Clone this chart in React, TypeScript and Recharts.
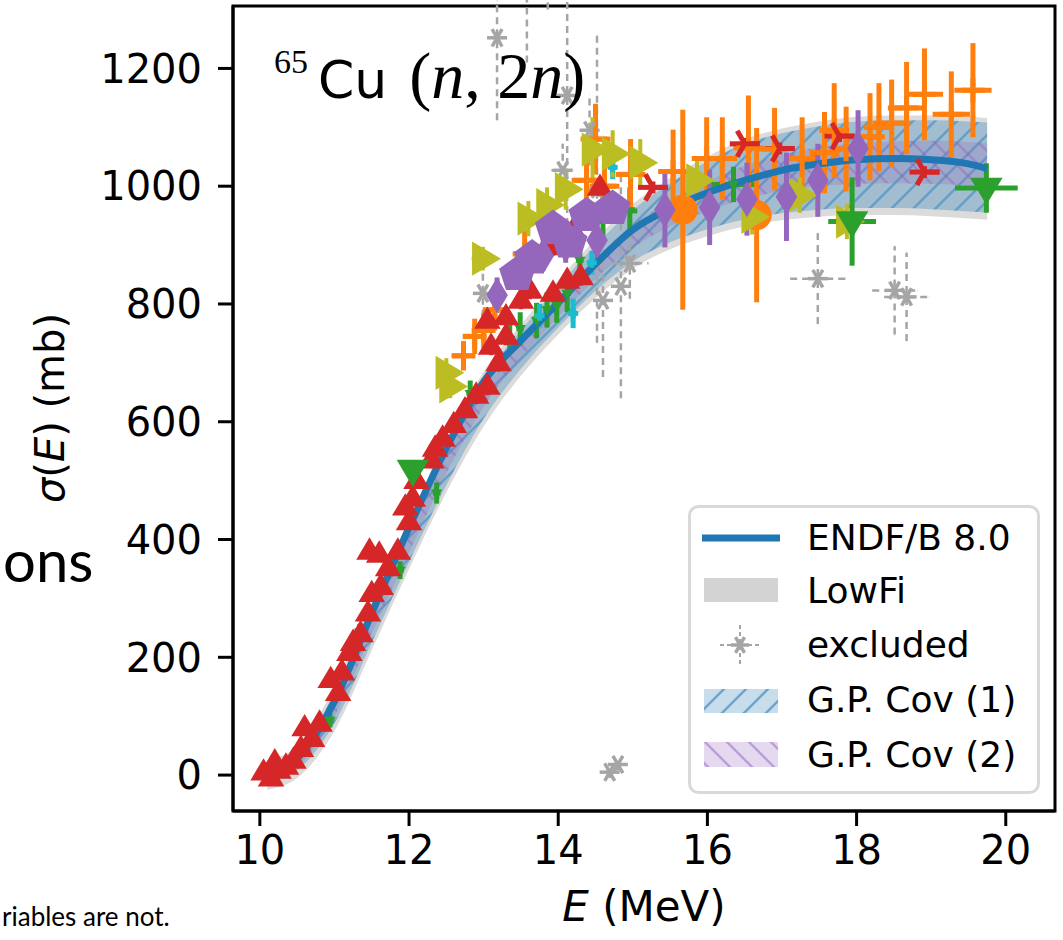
import React from 'react';
import { ComposedChart, Area, Line, Scatter, ErrorBar, XAxis, YAxis, ReferenceArea, Legend, Label } from 'recharts';

// model curve + bands, sampled on one energy grid (MeV / mb)
const bandE = [10.1, 10.5, 11.0, 11.5, 12.0, 12.5, 13.0, 13.5, 14.0, 14.5, 15.0, 15.5, 16.0, 16.5, 17.0, 17.5, 18.0, 18.5, 19.0, 19.5, 19.75];
const endf = [5, 28, 125, 275, 420, 555, 668, 738, 802, 868, 926, 962, 989, 1010, 1027, 1038, 1045, 1047, 1045, 1038, 1030];
const lowFiLo = [-25, -5, 75, 212, 350, 480, 592, 678, 748, 810, 860, 893, 915, 932, 942, 948, 951, 951, 949, 945, 943];
const lowFiHi = [25, 50, 150, 295, 435, 570, 685, 765, 840, 910, 970, 1014, 1050, 1080, 1098, 1110, 1118, 1120, 1120, 1118, 1116];
const cov1Lo = [-12, 8, 88, 225, 362, 492, 605, 690, 760, 822, 872, 905, 927, 944, 954, 960, 963, 963, 961, 957, 955];
const cov1Hi = [15, 40, 140, 285, 425, 560, 675, 755, 830, 900, 960, 1005, 1042, 1072, 1090, 1102, 1110, 1112, 1112, 1110, 1108];
const cov2Lo = [-5, 15, 100, 240, 378, 512, 625, 708, 778, 842, 895, 932, 958, 978, 992, 1000, 1004, 1005, 1004, 1001, 999];
const cov2Hi = [8, 32, 128, 270, 410, 542, 657, 738, 810, 878, 935, 975, 1008, 1035, 1053, 1066, 1073, 1076, 1077, 1075, 1073];

// measurements: [E, sigma, dSigma, dE]
const redTri = [
  [10.05, 5, 8, 0.05], [10.15, -5, 8, 0.05], [10.25, 8, 10, 0.05], [10.35, 15, 10, 0.05], [10.45, 25, 10, 0.05],
  [10.2, 22, 10, 0.05], [10.55, 45, 10, 0.05], [10.6, 80, 10, 0.05], [10.8, 88, 10, 0.05], [10.7, 62, 10, 0.05],
  [10.95, 162, 12, 0.05], [11.1, 175, 12, 0.05], [11.05, 140, 12, 0.05], [11.2, 208, 12, 0.05], [11.35, 240, 12, 0.05],
  [11.25, 225, 12, 0.05], [11.45, 275, 12, 0.05], [11.5, 308, 12, 0.05], [11.62, 320, 12, 0.05], [11.72, 352, 12, 0.05],
  [11.47, 380, 12, 0.05], [11.6, 375, 12, 0.05], [11.85, 380, 12, 0.05], [11.95, 455, 12, 0.05], [12.05, 470, 12, 0.05],
  [12.1, 500, 12, 0.05], [12.0, 430, 12, 0.05], [12.35, 555, 14, 0.05], [12.45, 572, 14, 0.05], [12.6, 595, 14, 0.05],
  [12.3, 535, 14, 0.05], [12.75, 620, 14, 0.05], [12.9, 645, 15, 0.05], [13.05, 660, 15, 0.05], [13.2, 700, 15, 0.05],
  [13.1, 728, 15, 0.05], [13.3, 745, 15, 0.05], [13.05, 772, 15, 0.05], [13.3, 778, 15, 0.05], [13.5, 806, 15, 0.05],
  [13.62, 823, 15, 0.05], [13.93, 818, 15, 0.05], [14.12, 840, 15, 0.05], [14.3, 846, 15, 0.05], [13.93, 897, 15, 0.05],
  [14.2, 925, 15, 0.05], [14.56, 998, 15, 0.05],
];
const redTri4 = [[15.27, 998, 10, 0.2], [16.5, 1072, 10, 0.2], [16.97, 1064, 10, 0.2], [17.77, 1085, 10, 0.2], [18.91, 1024, 10, 0.2]];
const orangePlus = [
  [12.73, 712, 25, 0.15], [12.88, 745, 30, 0.15], [13.0, 755, 30, 0.15], [13.15, 790, 35, 0.15], [13.55, 885, 40, 0.15],
  [14.38, 1010, 55, 0.2], [14.5, 1080, 60, 0.2], [14.62, 1000, 50, 0.2], [14.97, 1020, 60, 0.2], [15.54, 1025, 71, 0.2],
  [15.99, 1047, 70, 0.2], [16.2, 1047, 70, 0.2], [16.55, 1065, 89, 0.2], [16.9, 1063, 70, 0.2], [17.27, 1047, 70, 0.2],
  [17.57, 1057, 69, 0.2], [17.7, 1095, 80, 0.2], [17.86, 1063, 72, 0.2], [18.18, 1084, 74, 0.2], [18.3, 1100, 75, 0.2],
  [18.47, 1107, 74, 0.25], [18.67, 1133, 78, 0.25], [18.91, 1156, 78, 0.25], [19.27, 1122, 73, 0.25], [19.56, 1163, 80, 0.25],
];
const orangeCircle = [[15.67, 960, 170, 0], [16.66, 951, 148, 0]];
const oliveTri = [
  [12.5, 683, 25, 0.1], [12.55, 660, 20, 0.1], [12.99, 877, 20, 0.15], [13.6, 945, 30, 0.1],
  [13.85, 968, 30, 0.1], [14.1, 995, 35, 0.1], [14.46, 1062, 55, 0.1],
  [14.73, 1055, 40, 0.1], [15.1, 1040, 40, 0.1], [15.86, 1010, 35, 0.1], [16.6, 948, 30, 0.1], [17.24, 985, 30, 0.1],
  [17.87, 940, 30, 0.1],
];
const greenTri = [[12.05, 518, 0, 0], [17.94, 940, 75, 0.32], [19.74, 997, 42, 0.42]];
const greenSmall = [
  [10.94, 93, 12, 0.05], [11.34, 243, 14, 0.05], [11.88, 348, 15, 0.05], [12.37, 479, 18, 0.05], [12.82, 648, 22, 0.05],
  [13.35, 740, 25, 0.05], [13.49, 758, 28, 0.05], [13.71, 772, 30, 0.05], [13.85, 790, 30, 0.05], [13.98, 798, 30, 0.05],
  [14.12, 818, 32, 0.05], [14.29, 874, 35, 0.05], [14.6, 940, 35, 0.05], [14.96, 958, 40, 0.1], [16.35, 1003, 30, 0.3],
];
const purpleDiamond = [
  [13.18, 815, 30, 0], [13.53, 862, 30, 0], [13.8, 882, 25, 0], [14.1, 900, 30, 0], [14.52, 908, 35, 0],
  [15.43, 960, 64, 0], [16.03, 964, 64, 0], [16.53, 978, 62, 0], [17.06, 982, 75, 0], [17.48, 1010, 62, 0], [18.02, 1064, 65, 0],
];
const purplePenta = [[13.45, 850, 20, 0], [13.65, 878, 20, 0], [13.93, 928, 20, 0], [14.15, 905, 20, 0], [14.38, 950, 20, 0], [14.73, 962, 20, 0]];
const cyanSmall = [[13.75, 780, 20, 0.05], [14.2, 784, 25, 0.05], [14.45, 870, 20, 0.05], [14.73, 1032, 20, 0.05]];
const excluded = [
  [13.18, 1252, 140, 0.1], [13.58, 1330, 120, 0.1], [13.86, 1400, 100, 0.1], [14.12, 1154, 220, 0.1], [12.99, 818, 60, 0.1],
  [14.06, 1027, 45, 0.15], [14.42, 1095, 60, 0.1], [14.52, 995, 261, 0.1], [14.6, 806, 130, 0.1], [14.84, 830, 190, 0.1],
  [14.96, 869, 60, 0.25], [17.48, 843, 77, 0.37], [18.51, 823, 75, 0.3], [18.67, 812, 75, 0.3], [14.69, 5, 10, 0.05], [14.8, 18, 10, 0.05],
];

const xTicks = [10, 12, 14, 16, 18, 20];
const yTicks = [0, 200, 400, 600, 800, 1000, 1200];

const BLUE = '#1f77b4';
const ORANGE = '#ff7f0e';
const GREEN = '#2ca02c';
const RED = '#d62728';
const PURPLE = '#9467bd';
const OLIVE = '#bcbd22';
const CYAN = '#17becf';
const GRAY = '#a5a5a5';
const FONT = "'DejaVu Sans', sans-serif";

const bandData = bandE.map((E, i) => ({
  E,
  endf: endf[i],
  lowFi: [lowFiLo[i], lowFiHi[i]],
  cov1: [cov1Lo[i], cov1Hi[i]],
  cov2: [cov2Lo[i], cov2Hi[i]],
}));

const pts = (rows: number[][]) => rows.map(([E, s, dy, dx]) => ({ E, s, dy, dx }));

const marker = (kind: string, color: string, r: number) => (props: any) => {
  const { cx, cy } = props;
  if (cx == null || cy == null) return <g />;
  switch (kind) {
    case 'tri':
      return <polygon points={`${cx},${cy - r} ${cx - r * 0.95},${cy + r * 0.6} ${cx + r * 0.95},${cy + r * 0.6}`} fill={color} />;
    case 'triDown':
      return <polygon points={`${cx},${cy + r} ${cx - r * 0.95},${cy - r * 0.6} ${cx + r * 0.95},${cy - r * 0.6}`} fill={color} />;
    case 'triRight':
      return <polygon points={`${cx + r},${cy} ${cx - r * 0.6},${cy - r * 0.95} ${cx - r * 0.6},${cy + r * 0.95}`} fill={color} />;
    case 'tri4':
      return (
        <g stroke={color} strokeWidth={5} strokeLinecap="butt">
          <line x1={cx} y1={cy} x2={cx + r} y2={cy} />
          <line x1={cx} y1={cy} x2={cx - r * 0.5} y2={cy - r * 0.87} />
          <line x1={cx} y1={cy} x2={cx - r * 0.5} y2={cy + r * 0.87} />
        </g>
      );
    case 'diamond':
      return <polygon points={`${cx},${cy - r} ${cx + r * 0.6},${cy} ${cx},${cy + r} ${cx - r * 0.6},${cy}`} fill={color} />;
    case 'penta': {
      const p = [0, 1, 2, 3, 4].map((i) => {
        const a = ((-90 + 72 * i) * Math.PI) / 180;
        return `${cx + r * Math.cos(a)},${cy + r * Math.sin(a)}`;
      });
      return <polygon points={p.join(' ')} fill={color} />;
    }
    case 'circle':
      return <circle cx={cx} cy={cy} r={r} fill={color} />;
    case 'plus':
      return (
        <g stroke={color} strokeWidth={5}>
          <line x1={cx - r} y1={cy} x2={cx + r} y2={cy} />
          <line x1={cx} y1={cy - r} x2={cx} y2={cy + r} />
        </g>
      );
    case 'star':
      return (
        <g stroke={color} strokeWidth={3.5}>
          <line x1={cx - r} y1={cy} x2={cx + r} y2={cy} />
          <line x1={cx - r * 0.5} y1={cy - r * 0.87} x2={cx + r * 0.5} y2={cy + r * 0.87} />
          <line x1={cx - r * 0.5} y1={cy + r * 0.87} x2={cx + r * 0.5} y2={cy - r * 0.87} />
        </g>
      );
    default:
      return <g />;
  }
};

const Hatch = ({ id, color, bg, dir }: { id: string; color: string; bg: string; dir: 1 | -1 }) => (
  <pattern id={id} patternUnits="userSpaceOnUse" width={22} height={22}>
    <rect width={22} height={22} fill={bg} />
    {dir === 1 ? (
      <path d="M-4,26 L26,-4 M-4,4 L4,-4 M18,26 L26,18" stroke={color} strokeWidth={2.5} />
    ) : (
      <path d="M-4,-4 L26,26 M-4,18 L4,26 M18,-4 L26,4" stroke={color} strokeWidth={2.5} />
    )}
  </pattern>
);

const LegendBox = () => (
  <svg width={352} height={290} style={{ display: 'block' }}>
    <defs>
      <Hatch id="lgCov1" color="rgba(31,119,180,0.55)" bg="rgba(31,119,180,0.25)" dir={1} />
      <Hatch id="lgCov2" color="rgba(148,103,189,0.5)" bg="rgba(148,103,189,0.25)" dir={-1} />
    </defs>
    <rect x={1.5} y={1.5} width={349} height={286} rx={9} fill="#fff" fillOpacity={0.85} stroke="#d9d9d9" strokeWidth={3} />
    <line x1={14} y1={33} x2={92} y2={33} stroke={BLUE} strokeWidth={7} />
    <rect x={16} y={73} width={74} height={24} fill="#d3d3d3" />
    <g stroke={GRAY} strokeWidth={2} strokeDasharray="4 3">
      <line x1={32} y1={140} x2={72} y2={140} />
      <line x1={52} y1={120} x2={52} y2={160} />
    </g>
    {marker('star', GRAY, 9)({ cx: 52, cy: 140 })}
    <rect x={16} y={184} width={74} height={24} fill="url(#lgCov1)" />
    <rect x={16} y={237} width={74} height={25} fill="url(#lgCov2)" />
    <g fontFamily={FONT} fontSize={36} fill="#000">
      <text x={119} y={45}>ENDF/B 8.0</text>
      <text x={119} y={98}>LowFi</text>
      <text x={119} y={152}>excluded</text>
      <text x={119} y={207}>G.P. Cov (1)</text>
      <text x={119} y={262}>G.P. Cov (2)</text>
    </g>
  </svg>
);

const series = [
  { rows: excluded, color: GRAY, kind: 'star', r: 10, w: 2.5, dash: '7 5' },
  { rows: greenSmall, color: GREEN, kind: 'triDown', r: 6, w: 5 },
  { rows: cyanSmall, color: CYAN, kind: 'plus', r: 5, w: 5 },
  { rows: orangePlus, color: ORANGE, kind: 'plus', r: 12, w: 5 },
  { rows: orangeCircle, color: ORANGE, kind: 'circle', r: 15, w: 5 },
  { rows: oliveTri, color: OLIVE, kind: 'triRight', r: 18, w: 4 },
  { rows: redTri, color: RED, kind: 'tri', r: 14, w: 4 },
  { rows: redTri4, color: RED, kind: 'tri4', r: 15, w: 5 },
  { rows: greenTri, color: GREEN, kind: 'triDown', r: 17, w: 5 },
  { rows: purpleDiamond, color: PURPLE, kind: 'diamond', r: 18, w: 5 },
  { rows: purplePenta, color: PURPLE, kind: 'penta', r: 19, w: 4 },
];

const App = () => (
  <div style={{ position: 'absolute', left: 0, top: 0, width: 1063, height: 940, background: '#fff' }}>
    <ComposedChart width={1063} height={940} data={bandData} margin={{ top: 6, right: 8, bottom: 0, left: 0 }} style={{ fontFamily: FONT }}>
      <defs>
        <Hatch id="cov1Hatch" color="rgba(31,119,180,0.45)" bg="rgba(31,119,180,0.3)" dir={1} />
        <Hatch id="cov2Hatch" color="rgba(148,103,189,0.45)" bg="rgba(148,103,189,0.25)" dir={-1} />
      </defs>
      <XAxis
        dataKey="E"
        type="number"
        domain={[9.64, 20.66]}
        ticks={xTicks}
        allowDataOverflow
        height={129}
        tickSize={15}
        tickMargin={10}
        tick={{ fontSize: 40, fill: '#000', fontFamily: FONT }}
        tickLine={{ stroke: '#000', strokeWidth: 3 }}
        axisLine={{ stroke: '#000', strokeWidth: 3 }}
      >
        <Label
          content={() => (
            <text x={644} y={921} textAnchor="middle" fontFamily={FONT} fontSize={42} fill="#000">
              <tspan fontStyle="italic">E</tspan> (MeV)
            </text>
          )}
        />
      </XAxis>
      <YAxis
        type="number"
        domain={[-61, 1306]}
        ticks={yTicks}
        allowDataOverflow
        width={233}
        tickSize={15}
        tickMargin={16}
        tick={{ fontSize: 40, fill: '#000', fontFamily: FONT }}
        tickLine={{ stroke: '#000', strokeWidth: 3 }}
        axisLine={{ stroke: '#000', strokeWidth: 3 }}
      >
        <Label
          content={() => (
            <text transform="translate(64,408) rotate(-90)" textAnchor="middle" fontFamily={FONT} fontSize={40} fill="#000">
              <tspan fontStyle="italic">σ</tspan>(<tspan fontStyle="italic">E</tspan>) (mb)
            </text>
          )}
        />
      </YAxis>

      <Area dataKey="lowFi" type="monotone" stroke="none" fill="#cfcfcf" fillOpacity={0.75} isAnimationActive={false} />
      <Area dataKey="cov1" type="monotone" stroke="none" fill="url(#cov1Hatch)" fillOpacity={1} isAnimationActive={false} />
      <Area dataKey="cov2" type="monotone" stroke="none" fill="url(#cov2Hatch)" fillOpacity={1} isAnimationActive={false} />

      {series.map((sr, i) => (
        <Scatter key={i} data={pts(sr.rows)} dataKey="s" fill={sr.color} shape={marker(sr.kind, sr.color, sr.r)} isAnimationActive={false}>
          <ErrorBar dataKey="dy" direction="y" width={0} stroke={sr.color} strokeWidth={sr.w} strokeDasharray={sr.dash} />
          <ErrorBar dataKey="dx" direction="x" width={0} stroke={sr.color} strokeWidth={sr.w} strokeDasharray={sr.dash} />
        </Scatter>
      ))}

      <Line dataKey="endf" type="monotone" stroke={BLUE} strokeWidth={7} dot={false} isAnimationActive={false} />

      <ReferenceArea x1={9.64} x2={20.66} y1={-61} y2={1306} fill="none" stroke="#000" strokeWidth={3} ifOverflow="visible" />

      <Legend
        layout="vertical"
        align="center"
        verticalAlign="middle"
        content={() => <LegendBox />}
        wrapperStyle={{ left: 688, top: 505, width: 352, height: 290, right: 'auto', bottom: 'auto' }}
      />
    </ComposedChart>

    <svg width={1063} height={940} style={{ position: 'absolute', left: 0, top: 0, pointerEvents: 'none' }}>
      <text x={274} y={98} fill="#000">
        <tspan fontFamily="'Liberation Serif', serif" fontSize={34} dy={-25}>65</tspan>
        <tspan fontFamily={FONT} fontSize={52} dy={25} dx={10}>Cu</tspan>
        <tspan fontFamily="'Liberation Serif', serif" fontSize={66} dx={22}>(</tspan>
        <tspan fontFamily="'Liberation Serif', serif" fontSize={66} fontStyle="italic">n</tspan>
        <tspan fontFamily="'Liberation Serif', serif" fontSize={66}>, 2</tspan>
        <tspan fontFamily="'Liberation Serif', serif" fontSize={66} fontStyle="italic">n</tspan>
        <tspan fontFamily="'Liberation Serif', serif" fontSize={66}>)</tspan>
      </text>
      <text x={3} y={582} fontFamily="Lato, sans-serif" fontSize={58} fill="#000">ons</text>
      <text x={2} y={926} fontFamily="Lato, sans-serif" fontSize={26} fill="#000">riables are not.</text>
    </svg>
  </div>
);

export default App;
